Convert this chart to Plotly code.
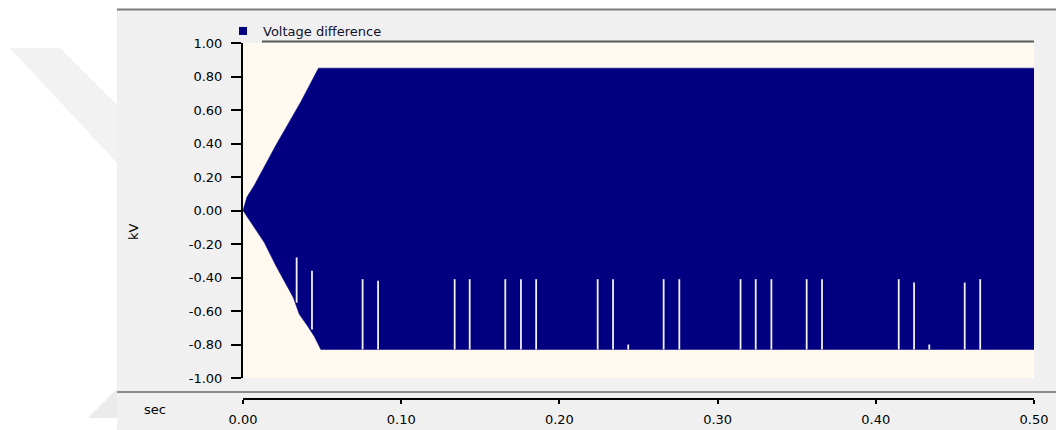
import plotly.graph_objects as go

# ---------------- data ----------------
series_name = "Voltage difference"

# upper edge of the dense waveform envelope (sec, kV)
t_upper = [0.0, 0.0025, 0.0071, 0.0208, 0.0366, 0.0477, 0.5]
v_upper = [0.0, 0.08, 0.15, 0.39, 0.65, 0.85, 0.85]

# lower edge of the envelope (sec, kV)
t_lower = [0.0, 0.003, 0.0134, 0.0208, 0.0318, 0.0356, 0.0408, 0.0450, 0.0492, 0.5]
v_lower = [0.0, -0.04, -0.19, -0.33, -0.52, -0.62, -0.69, -0.75, -0.83, -0.83]

# thin uncovered columns in the lower half (sec, kV top, kV bottom)
gap_t = [0.0339, 0.0436, 0.0756, 0.0854, 0.1338, 0.1433, 0.1658, 0.1757, 0.1853,
         0.2242, 0.2339, 0.2435, 0.2659, 0.2758, 0.3145, 0.3241, 0.3340, 0.3563,
         0.3660, 0.4145, 0.4242, 0.4338, 0.4562, 0.4660]
gap_top = [-0.28, -0.36, -0.41, -0.42, -0.41, -0.41, -0.41, -0.41, -0.41,
           -0.41, -0.41, -0.80, -0.41, -0.41, -0.41, -0.41, -0.41, -0.41,
           -0.41, -0.41, -0.43, -0.80, -0.43, -0.41]
gap_bottom = [-0.55, -0.71, -0.83, -0.83, -0.83, -0.83, -0.83, -0.83, -0.83,
              -0.83, -0.83, -0.83, -0.83, -0.83, -0.83, -0.83, -0.83, -0.83,
              -0.83, -0.83, -0.83, -0.83, -0.83, -0.83]

x_tickvals = [0.0, 0.1, 0.2, 0.3, 0.4, 0.5]
x_ticktext = ["0.00", "0.10", "0.20", "0.30", "0.40", "0.50"]
y_tickvals = [-1.0, -0.8, -0.6, -0.4, -0.2, 0.0, 0.2, 0.4, 0.6, 0.8, 1.0]
y_ticktext = ["-1.00", "-0.80", "-0.60", "-0.40", "-0.20", "0.00",
              "0.20", "0.40", "0.60", "0.80", "1.00"]
x_title = "sec"
y_title = "kV"

# ---------------- styling ----------------
NAVY = "#000080"
CREAM = "#FFF9EF"
PANEL = "#F0F0F0"
GAPC = "#F2F0F0"
FONT = "DejaVu Sans"

W, H = 1056, 430
PL, PR, PT, PB = 243, 1034, 43, 399   # paper area in pixels


def px(x):
    return (x - PL) / (PR - PL)


def py(y):
    return (PB - y) / (PB - PT)


fig = go.Figure()

# envelope polygon
env_x = t_upper + t_lower[::-1]
env_y = v_upper + v_lower[::-1]
fig.add_trace(go.Scatter(
    x=env_x, y=env_y, mode="lines", fill="toself", fillcolor=NAVY,
    line=dict(color=NAVY, width=0.5), showlegend=False, hoverinfo="skip",
    name=series_name))

# gaps
gx, gy = [], []
for t, a, b in zip(gap_t, gap_top, gap_bottom):
    gx += [t, t, None]
    gy += [a, b, None]
fig.add_trace(go.Scatter(
    x=gx, y=gy, mode="lines", line=dict(color=GAPC, width=1.8),
    showlegend=False, hoverinfo="skip"))

# legend entry
fig.add_trace(go.Scatter(
    x=[None], y=[None], mode="markers", name=series_name,
    marker=dict(symbol="square", size=8, color=NAVY)))

shapes = [
    # white surround (left strip and top strip)
    dict(type="rect", xref="paper", yref="paper", x0=px(0), x1=px(117),
         y0=py(H), y1=py(0), fillcolor="white", line=dict(width=0), layer="below"),
    dict(type="rect", xref="paper", yref="paper", x0=px(117), x1=px(W),
         y0=py(9), y1=py(0), fillcolor="white", line=dict(width=0), layer="below"),
    # faint watermark pieces
    dict(type="path", xref="paper", yref="paper", layer="below",
         path=f"M {px(10)},{py(48)} L {px(60)},{py(48)} L {px(117)},{py(105)} "
              f"L {px(117)},{py(163)} Z",
         fillcolor="#F2F2F2", line=dict(width=0)),
    dict(type="path", xref="paper", yref="paper", layer="below",
         path=f"M {px(88)},{py(418)} L {px(117)},{py(389)} L {px(117)},{py(418)} Z",
         fillcolor="#EBEBEB", line=dict(width=0)),
    # top frame line
    dict(type="line", xref="paper", yref="paper", x0=px(117), x1=px(W),
         y0=py(9.5), y1=py(9.5), line=dict(color="#7A7A7A", width=2)),
    # separator above the time axis
    dict(type="line", xref="paper", yref="paper", x0=px(117), x1=px(W),
         y0=py(392), y1=py(392), line=dict(color="#8A8A8A", width=2)),
    # top border of the plot window
    dict(type="line", xref="paper", yref="paper", x0=px(262), x1=px(1034),
         y0=py(41.5), y1=py(41.5), line=dict(color="#5A5A5A", width=2)),
]

annotations = [
    dict(text=x_title, xref="paper", yref="paper", x=px(155), y=py(409),
         xanchor="center", yanchor="middle", showarrow=False,
         font=dict(family=FONT, size=13, color="black")),
    dict(text=y_title, xref="paper", yref="paper", x=px(133), y=py(232),
         xanchor="center", yanchor="middle", showarrow=False, textangle=-90,
         font=dict(family=FONT, size=13, color="black")),
]

fig.update_layout(
    width=W, height=H, autosize=False,
    margin=dict(l=PL, r=W - PR, t=PT, b=H - PB, pad=0, autoexpand=False),
    paper_bgcolor=PANEL, plot_bgcolor=CREAM,
    font=dict(family=FONT, size=13, color="black"),
    showlegend=True,
    legend=dict(x=px(223), y=py(31), xanchor="left", yanchor="middle",
                bgcolor="rgba(0,0,0,0)", borderwidth=0,
                font=dict(family=FONT, size=13, color="#10102A")),
    shapes=shapes, annotations=annotations,
    xaxis=dict(range=[0, 0.5], anchor="free", position=0, automargin=False,
               tickvals=x_tickvals, ticktext=x_ticktext,
               ticks="outside", ticklen=4, tickwidth=2, tickcolor="black",
               showline=True, linecolor="black", linewidth=2,
               showgrid=False, zeroline=False, ticklabelstandoff=4),
    yaxis=dict(range=[-1, 1], domain=[py(378), 1], automargin=False,
               tickvals=y_tickvals, ticktext=y_ticktext,
               ticks="outside", ticklen=10, tickwidth=2, tickcolor="black",
               showline=True, linecolor="black", linewidth=2,
               showgrid=False, zeroline=False, ticklabelstandoff=6),
)

fig.write_html(
    "out.html",
    config={"displayModeBar": False},
    post_script="document.body.style.margin='0';document.body.style.overflow='hidden';",
)
